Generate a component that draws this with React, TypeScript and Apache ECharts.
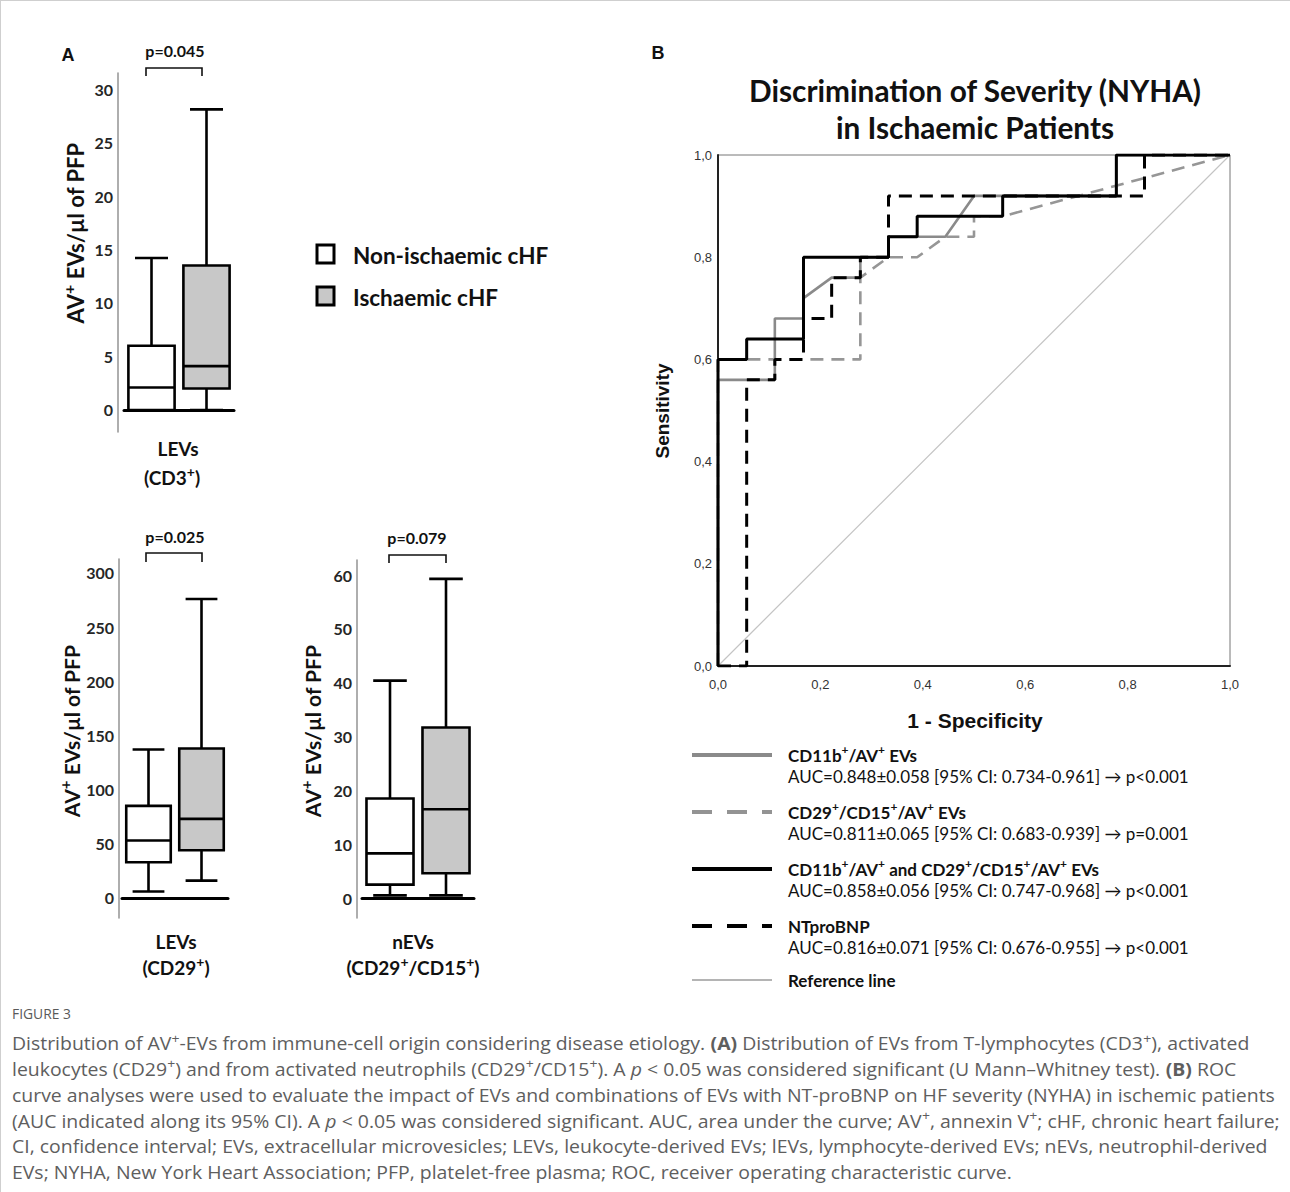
import React, { useEffect, useRef } from 'react';
import * as echarts from 'echarts';

// ---------- DATA ----------
const groups = ['Non-ischaemic cHF', 'Ischaemic cHF'];
const groupFill = ['#ffffff', '#c8c8c8'];
// [low whisker, Q1, median, Q3, high whisker]
const lymphoStats = [[0, 0, 2.1, 6.0, 14.2], [0, 2.0, 4.1, 13.5, 28.1]];
const leukoStats = [[6, 33, 53, 85, 137], [16, 44, 73, 138, 276]];
const neutroStats = [[0.5, 2.5, 8.3, 18.5, 40.4], [0.5, 4.6, 16.5, 31.7, 59.3]];
const lymphoTicks = [0, 5, 10, 15, 20, 25, 30];
const leukoTicks = [0, 50, 100, 150, 200, 250, 300];
const neutroTicks = [0, 10, 20, 30, 40, 50, 60];
const pValues = ['p=0.045', 'p=0.025', 'p=0.079'];

// ROC curves: [1 - specificity, sensitivity]
const rocCD11b = [[0, 0], [0, 0.56], [0.111, 0.56], [0.111, 0.68], [0.167, 0.68], [0.167, 0.72], [0.222, 0.76], [0.278, 0.76], [0.278, 0.8], [0.333, 0.8], [0.333, 0.84], [0.444, 0.84], [0.5, 0.92], [0.778, 0.92], [0.778, 1], [1, 1]];
const rocCD29CD15 = [[0, 0], [0, 0.6], [0.278, 0.6], [0.278, 0.76], [0.333, 0.8], [0.389, 0.8], [0.444, 0.84], [0.5, 0.84], [0.5, 0.88], [0.556, 0.88], [1, 1]];
const rocCombined = [[0, 0], [0, 0.6], [0.056, 0.6], [0.056, 0.64], [0.167, 0.64], [0.167, 0.8], [0.333, 0.8], [0.333, 0.84], [0.389, 0.84], [0.389, 0.88], [0.556, 0.88], [0.556, 0.92], [0.778, 0.92], [0.778, 1], [1, 1]];
const rocNTproBNP = [[0, 0], [0.056, 0], [0.056, 0.56], [0.111, 0.56], [0.111, 0.6], [0.167, 0.6], [0.167, 0.68], [0.222, 0.68], [0.222, 0.76], [0.278, 0.76], [0.278, 0.8], [0.333, 0.8], [0.333, 0.92], [0.833, 0.92], [0.833, 1], [1, 1]];
const rocReference = [[0, 0], [1, 1]];

const rocLegendTitles = [
  'CD11b{s|+}/AV{s|+} EVs',
  'CD29{s|+}/CD15{s|+}/AV{s|+} EVs',
  'CD11b{s|+}/AV{s|+} and CD29{s|+}/CD15{s|+}/AV{s|+} EVs',
  'NTproBNP',
  'Reference line',
];
const rocLegendAUC = [
  'AUC=0.848±0.058 [95% CI: 0.734-0.961] → p<0.001',
  'AUC=0.811±0.065 [95% CI: 0.683-0.939] → p=0.001',
  'AUC=0.858±0.056 [95% CI: 0.747-0.968] → p<0.001',
  'AUC=0.816±0.071 [95% CI: 0.676-0.955] → p<0.001',
];

const captionLines = [
  'Distribution of AV{s|+}-EVs from immune-cell origin considering disease etiology. {b|(A)} Distribution of EVs from T-lymphocytes (CD3{s|+}), activated',
  'leukocytes (CD29{s|+}) and from activated neutrophils (CD29{s|+}/CD15{s|+}). A {i|p} < 0.05 was considered significant (U Mann–Whitney test). {b|(B)} ROC',
  'curve analyses were used to evaluate the impact of EVs and combinations of EVs with NT-proBNP on HF severity (NYHA) in ischemic patients',
  '(AUC indicated along its 95% CI). A {i|p} < 0.05 was considered significant. AUC, area under the curve; AV{s|+}, annexin V{s|+}; cHF, chronic heart failure;',
  'CI, confidence interval; EVs, extracellular microvesicles; LEVs, leukocyte-derived EVs; lEVs, lymphocyte-derived EVs; nEVs, neutrophil-derived',
  'EVs; NYHA, New York Heart Association; PFP, platelet-free plasma; ROC, receiver operating characteristic curve.',
];

// ---------- STYLE ----------
const CAL = 'Lato, "Open Sans", sans-serif';
const ARIAL = '"Liberation Sans", Arial, sans-serif';
const CAP = '"Open Sans", "Noto Sans", sans-serif';

function boxRender(params: any, api: any) {
  const c = api.value(0);
  const lo = api.coord([c, api.value(1)]);
  const q1 = api.coord([c, api.value(2)]);
  const md = api.coord([c, api.value(3)]);
  const q3 = api.coord([c, api.value(4)]);
  const hi = api.coord([c, api.value(5)]);
  const band = api.size([1, 0])[0];
  const half = band * 0.42;
  const cap = band * 0.3;
  const x = lo[0];
  const ls = { stroke: '#000', lineWidth: 2.6 };
  return {
    type: 'group',
    children: [
      { type: 'line', shape: { x1: x, y1: hi[1], x2: x, y2: q3[1] }, style: ls },
      { type: 'line', shape: { x1: x, y1: q1[1], x2: x, y2: lo[1] }, style: ls },
      { type: 'line', shape: { x1: x - cap, y1: hi[1], x2: x + cap, y2: hi[1] }, style: ls },
      { type: 'line', shape: { x1: x - cap, y1: lo[1], x2: x + cap, y2: lo[1] }, style: ls },
      { type: 'rect', shape: { x: x - half, y: q3[1], width: 2 * half, height: q1[1] - q3[1] }, style: { fill: groupFill[c], stroke: '#000', lineWidth: 2.6 } },
      { type: 'line', shape: { x1: x - half, y1: md[1], x2: x + half, y2: md[1] }, style: ls },
    ],
  };
}

function boxData(stats: number[][]) {
  return stats.map((s, i) => [i, ...s]);
}

function txt(x: number, y: number, text: string, o: any = {}) {
  const size = o.size || 16;
  const family = o.family || CAL;
  const color = o.color || '#111';
  const bold = o.bold !== false;
  const supSize = Math.round(size * 0.72);
  return {
    type: 'text',
    x,
    y,
    rotation: o.rotation || 0,
    scaleX: o.scaleX || 1,
    silent: true,
    style: {
      text,
      fontSize: size,
      fontFamily: family,
      fontWeight: bold ? 'bold' : 'normal',
      fill: color,
      align: o.align || 'center',
      verticalAlign: 'middle',
      lineHeight: o.lineHeight || size * 1.3,
      rich: {
        s: { fontSize: supSize, fontWeight: bold ? 'bold' : 'normal', fontFamily: family, verticalAlign: 'top', color, lineHeight: supSize * 1.45 },
        b: { fontSize: size, fontFamily: family, fontWeight: 'bold', color: '#333' },
        i: { fontSize: size, fontFamily: family, fontStyle: 'italic', color },
      },
    },
  };
}

function yAxisFor(grid: number, min: number, max: number, ticks: number[], offset: number) {
  return {
    type: 'value',
    gridIndex: grid,
    min,
    max,
    offset,
    axisLine: { show: true, lineStyle: { color: '#9a9a9a', width: 1.6 } },
    axisTick: { show: false },
    splitLine: { show: false },
    axisLabel: {
      customValues: ticks,
      margin: 5,
      fontFamily: CAL,
      fontWeight: 'bold',
      fontSize: 16,
      color: '#262626',
    },
  };
}

function xCatAxis(grid: number) {
  return {
    type: 'category',
    gridIndex: grid,
    data: groups,
    axisLine: { show: true, lineStyle: { color: '#000', width: 3 } },
    axisTick: { show: false },
    axisLabel: { show: false },
  };
}

function rocAxis(grid: number, isX: boolean) {
  return {
    type: 'value',
    gridIndex: grid,
    min: 0,
    max: 1,
    interval: 0.2,
    axisLine: { show: true, onZero: false, lineStyle: { color: '#222', width: 2 } },
    axisTick: { show: false },
    splitLine: { show: false },
    axisLabel: {
      margin: isX ? 12 : 6,
      fontFamily: ARIAL,
      fontSize: 13,
      color: '#333',
      formatter: (v: number) => v.toFixed(1).replace('.', ','),
    },
  };
}

export default function App() {
  const ref = useRef<HTMLDivElement>(null);
  useEffect(() => {
    document.body.style.margin = '0';
    const chart = echarts.init(ref.current!, null, { renderer: 'svg' });

    const graphics: any[] = [];
    // page frame
    graphics.push({ type: 'line', shape: { x1: 0, y1: 0.5, x2: 1290, y2: 0.5 }, style: { stroke: '#cfcfcf', lineWidth: 1 } });
    graphics.push({ type: 'line', shape: { x1: 0.5, y1: 0, x2: 0.5, y2: 1192 }, style: { stroke: '#cfcfcf', lineWidth: 1 } });
    // panel letters
    graphics.push(txt(68, 55, 'A', { size: 18, family: ARIAL }));
    graphics.push(txt(658, 53, 'B', { size: 18, family: ARIAL }));
    // p values & brackets
    const brackets = [
      { x1: 146, x2: 202, y: 68, d: 8, tx: 175, ty: 50 },
      { x1: 146, x2: 202, y: 553, d: 9, tx: 175, ty: 536 },
      { x1: 389, x2: 446, y: 555, d: 8, tx: 417, ty: 537 },
    ];
    brackets.forEach((b, i) => {
      graphics.push({ type: 'polyline', shape: { points: [[b.x1, b.y + b.d], [b.x1, b.y], [b.x2, b.y], [b.x2, b.y + b.d]] }, style: { stroke: '#111', lineWidth: 1.6, fill: null } });
      graphics.push(txt(b.tx, b.ty, pValues[i], { size: 16 }));
    });
    // y axis names (box plots)
    const yName = 'AV{s|+} EVs/µl of PFP';
    graphics.push(txt(75, 233, yName, { size: 22, rotation: Math.PI / 2 }));
    graphics.push(txt(71, 731, yName, { size: 21, rotation: Math.PI / 2 }));
    graphics.push(txt(312, 731, yName, { size: 21, rotation: Math.PI / 2 }));
    // x axis names
    graphics.push(txt(178, 448, 'LEVs', { size: 19 }));
    graphics.push(txt(172, 477, '(CD3{s|+})', { size: 19 }));
    graphics.push(txt(176, 941, 'LEVs', { size: 19 }));
    graphics.push(txt(176, 967, '(CD29{s|+})', { size: 19 }));
    graphics.push(txt(413, 941, 'nEVs', { size: 19 }));
    graphics.push(txt(413, 967, '(CD29{s|+}/CD15{s|+})', { size: 19 }));
    // legend A
    groups.forEach((g, i) => {
      const y = i === 0 ? 245 : 287;
      graphics.push({ type: 'rect', shape: { x: 317, y, width: 17, height: 18 }, style: { fill: groupFill[i], stroke: '#000', lineWidth: 3 } });
      graphics.push(txt(353, y + 10, g, { size: 22.5, align: 'left' }));
    });
    // title B
    graphics.push(txt(975, 90, 'Discrimination of Severity (NYHA)', { size: 29.8 }));
    graphics.push(txt(975, 127, 'in Ischaemic Patients', { size: 29.8 }));
    graphics.push(txt(662, 411, 'Sensitivity', { size: 19, family: ARIAL, rotation: Math.PI / 2 }));
    graphics.push(txt(975, 720, '1 - Specificity', { size: 21, family: ARIAL }));
    // legend B
    const legStyles = [
      { stroke: '#8a8a8a', lineWidth: 4 },
      { stroke: '#939393', lineWidth: 4, lineDash: [20, 15] },
      { stroke: '#000', lineWidth: 4 },
      { stroke: '#000', lineWidth: 4, lineDash: [20, 15] },
      { stroke: '#b4b4b4', lineWidth: 2 },
    ];
    const legY = [755, 812, 869, 926, 980];
    rocLegendTitles.forEach((t, i) => {
      graphics.push({ type: 'line', shape: { x1: 692, y1: legY[i], x2: 772, y2: legY[i] }, style: legStyles[i] });
      graphics.push(txt(788, legY[i], t, { size: 17, align: 'left' }));
      if (rocLegendAUC[i]) graphics.push(txt(788, legY[i] + 21, rocLegendAUC[i], { size: 17, align: 'left', bold: false }));
    });
    // caption
    graphics.push(txt(12, 1013, 'FIGURE 3', { size: 14, family: CAP, align: 'left', bold: false, color: '#5a5a5a', scaleX: 0.99 }));
    captionLines.forEach((line, i) => {
      graphics.push(txt(12, 1043 + i * 25.8, line, { size: 18, family: CAP, align: 'left', bold: false, color: '#5e5e5e', scaleX: 1.08 }));
    });

    const rocLine = (name: string, data: number[][], color: string, width: number, dashed: boolean) => ({
      type: 'line',
      name,
      xAxisIndex: 3,
      yAxisIndex: 3,
      data,
      showSymbol: false,
      symbol: 'none',
      lineStyle: { color, width, type: dashed ? [13, 8] : 'solid' },
      silent: true,
    });

    chart.setOption({
      animation: false,
      grid: [
        { left: 124, top: 73, width: 110, height: 359 },
        { left: 122, top: 559, width: 106, height: 359 },
        { left: 362, top: 560, width: 112, height: 358 },
        { left: 718, top: 155, width: 512, height: 511, show: true, borderColor: '#777', borderWidth: 1 },
      ],
      xAxis: [xCatAxis(0), xCatAxis(1), xCatAxis(2), rocAxis(3, true)],
      yAxis: [
        yAxisFor(0, -2.06, 31.5, lymphoTicks, 6),
        yAxisFor(1, -18.5, 312.9, leukoTicks, 3),
        yAxisFor(2, -3.7, 62.8, neutroTicks, 5),
        rocAxis(3, false),
      ],
      series: [
        { type: 'custom', name: 'LEVs (CD3+)', xAxisIndex: 0, yAxisIndex: 0, renderItem: boxRender, data: boxData(lymphoStats), encode: { x: 0, y: [1, 2, 3, 4, 5] } },
        { type: 'custom', name: 'LEVs (CD29+)', xAxisIndex: 1, yAxisIndex: 1, renderItem: boxRender, data: boxData(leukoStats), encode: { x: 0, y: [1, 2, 3, 4, 5] } },
        { type: 'custom', name: 'nEVs (CD29+/CD15+)', xAxisIndex: 2, yAxisIndex: 2, renderItem: boxRender, data: boxData(neutroStats), encode: { x: 0, y: [1, 2, 3, 4, 5] } },
        rocLine('Reference line', rocReference, '#c4c4c4', 1.2, false),
        rocLine('CD29+/CD15+/AV+ EVs', rocCD29CD15, '#969696', 2.6, true),
        rocLine('CD11b+/AV+ EVs', rocCD11b, '#8a8a8a', 2.6, false),
        rocLine('NTproBNP', rocNTproBNP, '#000', 3, true),
        rocLine('CD11b+/AV+ and CD29+/CD15+/AV+ EVs', rocCombined, '#000', 3, false),
      ],
      graphic: graphics,
    });
    return () => chart.dispose();
  }, []);
  return <div ref={ref} style={{ width: 1290, height: 1192 }} />;
}
